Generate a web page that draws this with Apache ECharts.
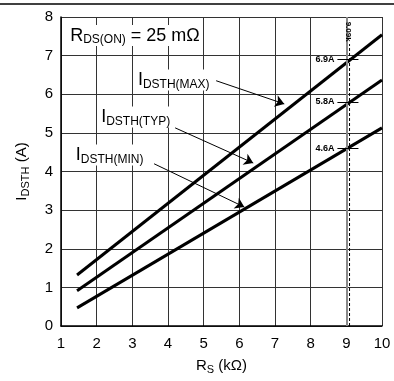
<!DOCTYPE html>
<html>
<head>
<meta charset="utf-8">
<script src="https://cdn.jsdelivr.net/npm/echarts@6/dist/echarts.min.js"></script>
<style>
  html, body { margin: 0; padding: 0; background: #fff; }
  #chart { width: 394px; height: 381px; }
</style>
</head>
<body>
<div id="chart"></div>
<script>
// data (R_S in kOhm, I_DSTH in A)
const rsKOhm = [1.45, 10];
const idsthMax = [1.32, 7.54];
const idsthTyp = [0.91, 6.37];
const idsthMin = [0.47, 5.13];

// marked operating point
const rsMark = 9.09;
const rsMarkSpan = [0, 7.3];
const markValues = [6.9, 5.8, 4.6];
const markLabels = ['6.9A', '5.8A', '4.6A'];

const FONT = '"Liberation Sans", Arial, Helvetica, sans-serif';

const chart = echarts.init(document.getElementById('chart'), null, { renderer: 'canvas' });

function pairs(xs, ys) {
  return xs.map((x, i) => [x, ys[i]]);
}

// arrow from label to curve
function arrow(from, to) {
  return {
    data: [[{ coord: from }, { coord: to }]],
    symbol: ['none', 'arrow'],
    symbolSize: 9,
    silent: true,
    animation: false,
    label: { show: false },
    itemStyle: { color: '#000' },
    lineStyle: { color: '#000', width: 1, type: 'solid' },
    emphasis: { disabled: true }
  };
}

function curve(name, ys, arr) {
  return {
    name: name,
    type: 'line',
    data: pairs(rsKOhm, ys),
    symbol: 'none',
    silent: true,
    animation: false,
    lineStyle: { color: '#000', width: 3 },
    markLine: arr
  };
}

const option = {
  backgroundColor: '#fff',
  animation: false,
  grid: { left: 61, right: 12, top: 17, bottom: 55 },
  xAxis: {
    type: 'value',
    min: 1,
    max: 10,
    interval: 1,
    name: '{m|R}{s|S}{m| (kΩ)}',
    nameLocation: 'middle',
    nameGap: 31,
    nameTextStyle: {
      rich: {
        m: { fontSize: 15, fontFamily: FONT, color: '#000' },
        s: { fontSize: 11, fontFamily: FONT, color: '#000', padding: [7, 0, 0, 0] }
      }
    },
    axisLine: { show: true, lineStyle: { color: '#000', width: 1.5 } },
    axisTick: { show: false },
    axisLabel: { color: '#000', fontSize: 15, fontFamily: FONT, margin: 10 },
    splitLine: { show: true, lineStyle: { color: '#333', width: 1 } }
  },
  yAxis: {
    type: 'value',
    min: 0,
    max: 8,
    interval: 1,
    name: '{m|I}{s|DSTH}{m| (A)}',
    nameLocation: 'middle',
    nameGap: 30,
    nameRotate: 90,
    nameTextStyle: {
      rich: {
        m: { fontSize: 15, fontFamily: FONT, color: '#000' },
        s: { fontSize: 11, fontFamily: FONT, color: '#000', padding: [7, 0, 0, 0] }
      }
    },
    axisLine: { show: true, lineStyle: { color: '#000', width: 1.5 } },
    axisTick: { show: false },
    axisLabel: { color: '#000', fontSize: 15, fontFamily: FONT, margin: 8 },
    splitLine: { show: true, lineStyle: { color: '#333', width: 1 } }
  },
  series: [
    curve('max', idsthMax, arrow([5.35, 6.35], [7.26, 5.75])),
    curve('typ', idsthTyp, arrow([4.20, 5.13], [6.39, 4.22])),
    curve('min', idsthMin, arrow([3.61, 4.20], [6.14, 3.08])),
    {
      name: 'mark',
      type: 'line',
      data: rsMarkSpan.map(v => [rsMark, v]),
      symbol: 'none',
      silent: true,
      animation: false,
      z: 1,
      lineStyle: { color: '#000', width: 1, type: [3, 2] },
      markLine: {
        symbol: 'none',
        silent: true,
        animation: false,
        lineStyle: { color: '#000', width: 1, type: 'solid' },
        label: {
          show: true,
          position: 'start',
          distance: 3,
          color: '#000',
          fontSize: 9,
          fontWeight: 'bold',
          fontFamily: FONT,
          formatter: p => p.data.labelText || ''
        },
        data: [
          [{ coord: [9, 0], lineStyle: { color: '#888', width: 2 }, label: { show: false } },
           { coord: [9, 8] }]
        ].concat(markValues.map((v, i) => [
          { coord: [8.75, v], labelText: markLabels[i] },
          { coord: [9.34, v] }
        ]))
      }
    }
  ]
};

chart.setOption(option);

// annotations placed in data space
const at = (x, y) => chart.convertToPixel({ gridIndex: 0 }, [x, y]);
const subRich = {
  m: { fontSize: 18, fontFamily: FONT, fill: '#000' },
  s: { fontSize: 12, fontFamily: FONT, fill: '#000', padding: [9, 0, 0, 0] }
};

function note(x, y, text) {
  const p = at(x, y);
  return {
    type: 'text',
    x: p[0],
    y: p[1],
    z: 50,
    style: {
      text: text,
      rich: subRich,
      verticalAlign: 'middle',
      align: 'left',
      backgroundColor: '#fff',
      padding: [0, 2, 0, 2]
    }
  };
}

const markTop = at(rsMark, 7.62);
chart.setOption({
  graphic: [
    {
      type: 'line',
      shape: { x1: 0, y1: 4, x2: 394, y2: 4 },
      style: { stroke: '#000', lineWidth: 1.5 },
      silent: true
    },
    note(1.2, 7.52, '{m|R}{s|DS(ON)}{m| = 25 mΩ}'),
    note(3.1, 6.37, '{m|I}{s|DSTH(MAX)}'),
    note(2.07, 5.41, '{m|I}{s|DSTH(TYP)}'),
    note(1.36, 4.43, '{m|I}{s|DSTH(MIN)}'),
    {
      type: 'text',
      x: markTop[0] - 1,
      y: markTop[1],
      rotation: -Math.PI / 2,
      z: 50,
      style: {
        text: '9.09k',
        fontSize: 8,
        fontWeight: 'bold',
        fontFamily: FONT,
        fill: '#000',
        align: 'center',
        verticalAlign: 'middle'
      }
    }
  ]
});
</script>
</body>
</html>
